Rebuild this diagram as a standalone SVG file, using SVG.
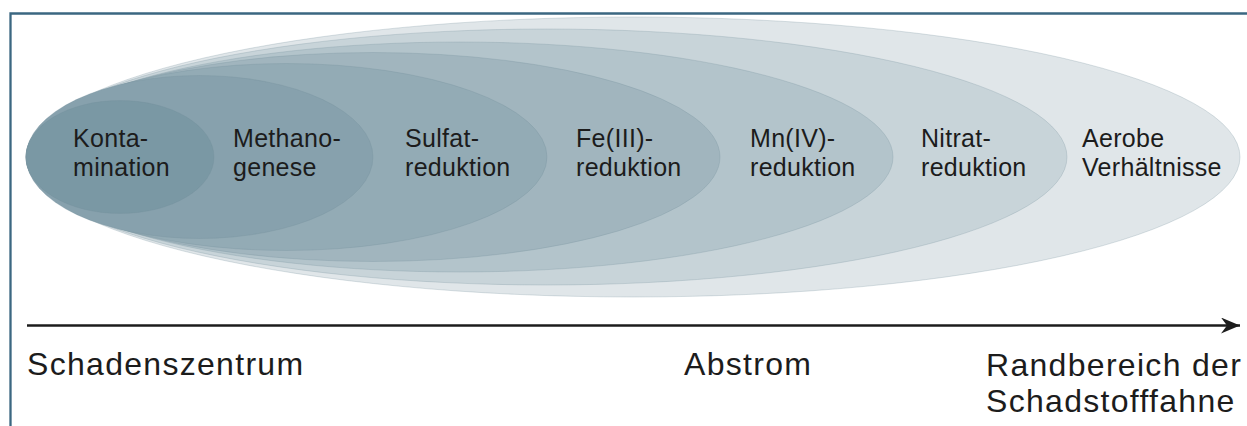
<svg xmlns="http://www.w3.org/2000/svg" width="1247" height="426" viewBox="0 0 1247 426">
<style>
.zone{stroke:#6f8d99;stroke-opacity:0.25;stroke-width:1}
.lbl{font-family:"Liberation Sans",Arial,sans-serif;font-size:25px;letter-spacing:0.3px;fill:#1c1c1c}
.axis{font-family:"Liberation Sans",Arial,sans-serif;font-size:32px;letter-spacing:1.3px;fill:#1c1c1c}
.frame{stroke:#3b6781;stroke-width:2.3;fill:none}
</style>
<defs>
<marker id="ah" markerWidth="20" markerHeight="18" refX="19" refY="8" orient="auto" markerUnits="userSpaceOnUse">
<path d="M19,8 L0,0 L6,8 L0,16 Z" fill="#1c1c1c"/>
</marker>
</defs>
<rect width="1247" height="426" fill="#ffffff"/>
<path class="frame" d="M10.5,426 L10.5,13.5 L1247,13.5"/>
<g id="aerobe"><ellipse class="zone" cx="633" cy="157" rx="607" ry="140" fill="#e0e6e9"/>
<text class="lbl" x="1082" y="147">Aerobe</text><text class="lbl" x="1082" y="176">Verhältnisse</text></g>
<g id="nitrat"><ellipse class="zone" cx="546.5" cy="157" rx="520.5" ry="128" fill="#c8d4d9"/>
<text class="lbl" x="921" y="147">Nitrat-</text><text class="lbl" x="921" y="176">reduktion</text></g>
<g id="mangan"><ellipse class="zone" cx="459.5" cy="157" rx="433.5" ry="115" fill="#b3c4cb"/>
<text class="lbl" x="750" y="147">Mn(IV)-</text><text class="lbl" x="750" y="176">reduktion</text></g>
<g id="eisen"><ellipse class="zone" cx="373" cy="157" rx="347" ry="104.5" fill="#a1b5be"/>
<text class="lbl" x="576" y="147">Fe(III)-</text><text class="lbl" x="576" y="176">reduktion</text></g>
<g id="sulfat"><ellipse class="zone" cx="286.5" cy="157" rx="260.5" ry="93.5" fill="#93abb5"/>
<text class="lbl" x="405" y="147">Sulfat-</text><text class="lbl" x="405" y="176">reduktion</text></g>
<g id="methan"><ellipse class="zone" cx="199.5" cy="157" rx="173.5" ry="81.5" fill="#87a1ad"/>
<text class="lbl" x="233" y="147">Methano-</text><text class="lbl" x="233" y="176">genese</text></g>
<g id="kontamination"><ellipse class="zone" cx="120" cy="157" rx="94" ry="56.5" fill="#7a98a4"/>
<text class="lbl" x="73" y="147">Konta-</text><text class="lbl" x="73" y="176">mination</text></g>
<g id="connectors"><line x1="27" y1="325.5" x2="1240" y2="325.5" stroke="#1c1c1c" stroke-width="2.3" marker-end="url(#ah)"/></g>
<g id="axis-labels">
<text class="axis" x="27" y="375">Schadenszentrum</text>
<text class="axis" x="684" y="375">Abstrom</text>
<text class="axis" x="986" y="376">Randbereich der</text>
<text class="axis" x="986" y="412">Schadstofffahne</text>
</g>
</svg>
